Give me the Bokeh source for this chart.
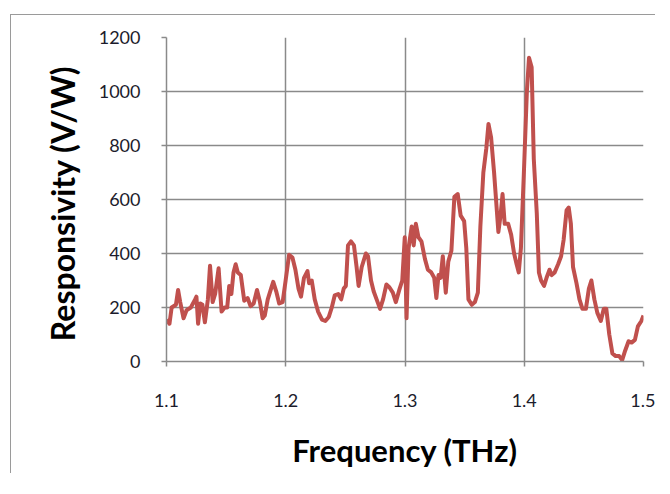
from bokeh.plotting import figure
from bokeh.models import FixedTicker, Range1d, Title
from bokeh.embed import file_html
from bokeh.resources import INLINE

freq = [1.1000, 1.1025, 1.1043, 1.1079, 1.1097, 1.1115, 1.1143, 1.1168, 1.1204, 1.1240,
        1.1251, 1.1265, 1.1283, 1.1301, 1.1322, 1.1347, 1.1365, 1.1387, 1.1408, 1.1437,
        1.1462, 1.1487, 1.1509, 1.1526, 1.1544, 1.1562, 1.1580, 1.1598, 1.1623, 1.1652,
        1.1680, 1.1705, 1.1731, 1.1759, 1.1784, 1.1806, 1.1824, 1.1849, 1.1877, 1.1895,
        1.1920, 1.1945, 1.1974, 1.1999, 1.2028, 1.2056, 1.2081, 1.2107, 1.2128, 1.2153,
        1.2182, 1.2196, 1.2218, 1.2243, 1.2271, 1.2304, 1.2332, 1.2361, 1.2386, 1.2411,
        1.2440, 1.2465, 1.2486, 1.2504, 1.2522, 1.2547, 1.2572, 1.2594, 1.2611, 1.2637,
        1.2672, 1.2690, 1.2715, 1.2737, 1.2762, 1.2791, 1.2816, 1.2844, 1.2869, 1.2898,
        1.2923, 1.2952, 1.2977, 1.2998, 1.3013, 1.3030, 1.3056, 1.3073, 1.3091, 1.3113,
        1.3138, 1.3167, 1.3192, 1.3220, 1.3245, 1.3263, 1.3281, 1.3299, 1.3317, 1.3342,
        1.3363, 1.3389, 1.3414, 1.3442, 1.3467, 1.3496, 1.3514, 1.3532, 1.3560, 1.3586,
        1.3611, 1.3632, 1.3657, 1.3682, 1.3700, 1.3722, 1.3747, 1.3765, 1.3783, 1.3801,
        1.3818, 1.3836, 1.3865, 1.3890, 1.3915, 1.3936, 1.3954, 1.3972, 1.3997, 1.4022,
        1.4040, 1.4062, 1.4080, 1.4105, 1.4123, 1.4141, 1.4166, 1.4187, 1.4212, 1.4230,
        1.4255, 1.4284, 1.4309, 1.4330, 1.4355, 1.4373, 1.4391, 1.4409, 1.4438, 1.4463,
        1.4488, 1.4517, 1.4542, 1.4563, 1.4588, 1.4613, 1.4642, 1.4667, 1.4688, 1.4713,
        1.4739, 1.4767, 1.4796, 1.4821, 1.4846, 1.4875, 1.4900, 1.4928, 1.4953, 1.4982,
        1.5000]

responsivity = [155, 140, 200, 210, 265, 220, 160, 190, 200, 230,
                240, 140, 215, 210, 145, 230, 355, 220, 250, 345,
                185, 200, 200, 280, 250, 330, 360, 330, 320, 225,
                235, 205, 215, 265, 220, 160, 170, 230, 270, 295,
                260, 215, 220, 300, 395, 385, 340, 270, 240, 310,
                335, 290, 300, 230, 185, 155, 150, 165, 200, 245,
                250, 230, 270, 280, 430, 445, 430, 350, 280, 350,
                400, 390, 300, 260, 230, 195, 230, 285, 275, 255,
                220, 265, 300, 460, 160, 420, 500, 430, 510, 460,
                445, 380, 340, 330, 310, 235, 320, 310, 390, 255,
                370, 410, 610, 620, 540, 520, 420, 230, 210, 220,
                255, 500, 700, 790, 880, 830, 700, 590, 480, 540,
                620, 510, 510, 470, 400, 360, 330, 420, 700, 1000,
                1125, 1090, 750, 550, 330, 300, 280, 310, 340, 320,
                330, 360, 390, 450, 560, 570, 510, 350, 290, 230,
                195, 195, 270, 300, 230, 180, 150, 195, 195, 100,
                30, 20, 20, 5, 40, 75, 70, 80, 130, 150,
                170]

x_ticks = [1.1, 1.2, 1.3, 1.4, 1.5]
y_ticks = [0, 200, 400, 600, 800, 1000, 1200]
y_title = "Responsivity  (V/W)"
x_title = "Frequency (THz)"

GRID = "#8a8a8a"
FONT = "Lato"

p = figure(frame_width=477, frame_height=324,
           x_range=Range1d(1.1, 1.5), y_range=Range1d(0, 1200),
           output_backend="svg", toolbar_location=None,
           min_border_left=155, min_border_top=22,
           min_border_right=12, min_border_bottom=112)
p.margin = (14, 0, 0, 10)
p.styles = {"border-left": "1px solid #9a9a9a", "border-top": "1px solid #9a9a9a"}
p.outline_line_color = None
p.background_fill_color = "white"
p.border_fill_color = "white"

p.line(freq, responsivity, line_color="#C0504D", line_width=4, line_join="round")

for ax in (p.xaxis[0], p.yaxis[0]):
    ax.axis_line_color = GRID
    ax.axis_line_width = 1.5
    ax.major_tick_line_color = GRID
    ax.major_tick_line_width = 1.5
    ax.major_tick_out = 5
    ax.major_tick_in = 0
    ax.minor_tick_line_color = None
    ax.major_label_text_font = FONT
    ax.major_label_text_font_size = "18px"
    ax.major_label_text_color = "#1c1c2c"
    ax.axis_label_text_font = FONT
    ax.axis_label_text_font_style = "bold"
    ax.axis_label_text_color = "#000000"

p.xaxis.ticker = FixedTicker(ticks=x_ticks)
p.yaxis.ticker = FixedTicker(ticks=y_ticks)
p.xaxis.axis_label = x_title
p.xaxis.axis_label_text_font_size = "31px"
p.xaxis.major_label_standoff = 27
p.yaxis.major_label_standoff = 21
p.xaxis.axis_label_standoff = 21

# y-axis title as a left-side title
p.add_layout(Title(text=y_title, align="center", offset=0,
                   text_font=FONT, text_font_style="bold",
                   text_font_size="32px", text_color="#000000",
                   standoff=28), "left")

p.xgrid.ticker = FixedTicker(ticks=x_ticks)
p.ygrid.ticker = FixedTicker(ticks=y_ticks)
p.xgrid.grid_line_color = GRID
p.ygrid.grid_line_color = GRID
p.xgrid.grid_line_width = 1.5
p.ygrid.grid_line_width = 1.5

open("out.html", "w").write(file_html(p, INLINE))
